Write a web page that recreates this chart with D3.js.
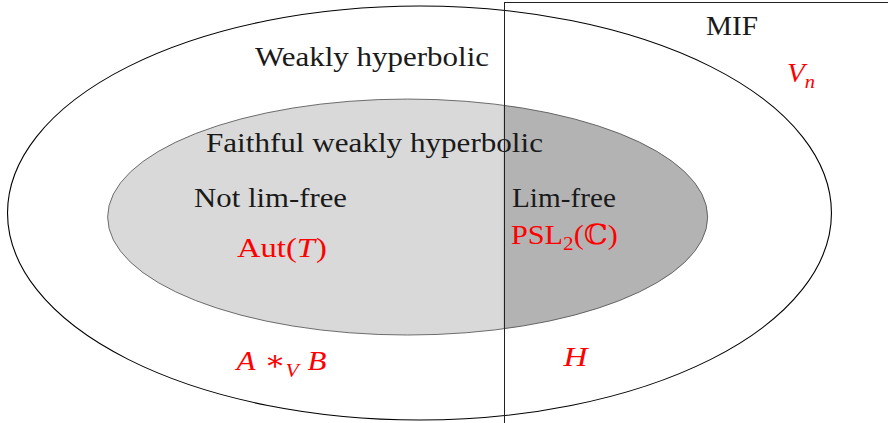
<!DOCTYPE html>
<html>
<head>
<meta charset="utf-8">
<script src="https://cdn.jsdelivr.net/npm/d3@7"></script>
<style>
  html, body { margin: 0; padding: 0; background: #ffffff; }
  svg { display: block; }
  text { font-family: "Liberation Serif", "DejaVu Serif", "Noto Serif", serif; }
</style>
</head>
<body>
<div id="chart"></div>
<script>
// ---------------- data (diagram units, TikZ-like cm) ----------------
const setNames = ["Weakly hyperbolic", "Faithful weakly hyperbolic", "MIF"];
const regionNames = ["Not lim-free", "Lim-free"];
const exampleGroups = ["Aut(T)", "PSL2(C)", "A *V B", "H", "Vn"];

// ellipses: [cx, cy, rx, ry]
const outerEllipse = [0, 0, 4.0, 2.0];
const innerEllipse = [-0.115, -0.039, 2.913, 1.14];
// MIF rectangle: [x0, yTop, x1, yBottom]
const mifRect = [0.816, 2.034, 4.8, -2.2];

// label anchors: [left x, baseline y, width]
const setLabelPos = [[-1.597, 1.416, 2.272], [-2.073, 0.589, 3.272], [2.782, 1.720, 0.505]];
const regionLabelPos = [[-2.189, 0.058, 1.485], [0.898, 0.058, 1.009]];
const exampleLabelPos = [[-1.772, -0.425, 0.874], [0.888, -0.295, 1.039], [-1.777, -1.517, 0.874], [1.398, -1.478, 0.233], [3.568, 1.266, 0.272]];

// ---------------- rendering ----------------
const W = 888, H = 423;
const x = d3.scaleLinear().domain([-4.073, 4.549]).range([0, 888]);
const y = d3.scaleLinear().domain([2.058, -2.029]).range([0, 423]);
const kx = x(1) - x(0), ky = y(0) - y(1);

const svg = d3.select("#chart").append("svg")
  .attr("width", W).attr("height", H)
  .attr("viewBox", `0 0 ${W} ${H}`);

const defs = svg.append("defs");
defs.append("clipPath").attr("id", "rectClip")
  .append("rect")
  .attr("x", x(mifRect[0])).attr("y", y(mifRect[1]))
  .attr("width", x(mifRect[2]) - x(mifRect[0]))
  .attr("height", y(mifRect[3]) - y(mifRect[1]));

function ell(sel, e) {
  return sel.append("ellipse")
    .attr("cx", x(e[0])).attr("cy", y(e[1]))
    .attr("rx", e[2] * kx).attr("ry", e[3] * ky);
}

// inner ellipse fills
ell(svg, innerEllipse).attr("fill", "#d9d9d9").attr("stroke", "none");
ell(svg.append("g").attr("clip-path", "url(#rectClip)"), innerEllipse)
  .attr("fill", "#b3b3b3").attr("stroke", "none");
ell(svg, innerEllipse).attr("fill", "none").attr("stroke", "#4d4d4d").attr("stroke-width", 0.8);

// outer ellipse
ell(svg, outerEllipse).attr("fill", "none").attr("stroke", "#000").attr("stroke-width", 1.1);

// MIF rectangle
svg.append("rect")
  .attr("x", Math.round(x(mifRect[0])) + 0.5).attr("y", Math.round(y(mifRect[1])) + 0.5)
  .attr("width", x(mifRect[2]) - x(mifRect[0]))
  .attr("height", y(mifRect[3]) - y(mifRect[1]))
  .attr("fill", "none").attr("stroke", "#222").attr("stroke-width", 1);

const fs = 28;

function plain(name, pos, color) {
  svg.append("text")
    .attr("x", x(pos[0])).attr("y", y(pos[1]))
    .attr("font-size", fs)
    .attr("fill", color)
    .attr("textLength", pos[2] * kx)
    .attr("lengthAdjust", "spacingAndGlyphs")
    .text(name);
}
setNames.forEach((n, i) => plain(n, setLabelPos[i], "#1a1a1a"));
regionNames.forEach((n, i) => plain(n, regionLabelPos[i], "#1a1a1a"));

// math-style red labels
const red = "#ff0000";
function mathLabel(pos, parts) {
  const t = svg.append("text")
    .attr("x", x(pos[0])).attr("y", y(pos[1]))
    .attr("font-size", fs)
    .attr("fill", red)
    .attr("textLength", pos[2] * kx)
    .attr("lengthAdjust", "spacingAndGlyphs");
  parts.forEach(p => {
    const s = t.append("tspan").text(p.t);
    if (p.i) s.attr("font-style", "italic");
    if (p.sub) s.attr("font-size", fs * 0.7).attr("dy", p.sub);
    if (p.dx) s.attr("dx", p.dx);
    if (p.dy) s.attr("dy", p.dy);
  });
  return t;
}
// Aut(T)
mathLabel(exampleLabelPos[0], [{t: "Aut("}, {t: "T", i: true}, {t: ")", dx: 1}]);
// PSL2(C)
mathLabel(exampleLabelPos[1], [{t: "PSL"}, {t: "2", sub: 6}, {t: "(ℂ)", dy: -6}]);
// A *V B
mathLabel(exampleLabelPos[2], [{t: "A", i: true}, {t: "∗", dx: 8}, {t: "V", i: true, sub: 7}, {t: "B", i: true, dx: 8, dy: -7}]);
// H
mathLabel(exampleLabelPos[3], [{t: "H", i: true}]);
// Vn
mathLabel(exampleLabelPos[4], [{t: "V", i: true}, {t: "n", i: true, sub: 6}]);
</script>
</body>
</html>
